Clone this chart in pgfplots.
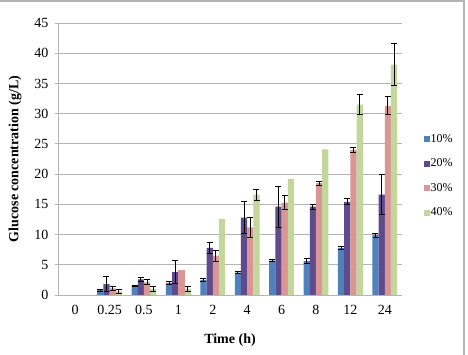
\documentclass[border=0pt]{standalone}
\usepackage{fontspec}
\setmainfont{Liberation Serif}
\usepackage{pgfplots}
\usepackage{pgfplotstable}
\pgfplotsset{compat=1.18}

\definecolor{c10}{HTML}{4F81BD}
\definecolor{c20}{HTML}{5F4A8B}
\definecolor{c30}{HTML}{D99694}
\definecolor{c40}{HTML}{C3D69B}
\definecolor{gridgray}{HTML}{B4B4B4}

% time index: 1=0.25 h, 2=0.5, 3=1, 4=2, 5=4, 6=6, 7=8, 8=12, 9=24
\pgfplotstableread{
x  y    e
1  0.8  0.2
2  1.5  0.1
3  2.0  0.2
4  2.5  0.3
5  3.7  0.2
6  5.7  0.2
7  5.6  0.4
8  7.8  0.3
9  9.9  0.3
}\tenpct
\pgfplotstableread{
x  y     e
1  1.8   1.2
2  2.6   0.3
3  3.8   1.9
4  7.8   0.9
5  12.8  2.6
6  14.6  3.4
7  14.6  0.4
8  15.4  0.5
9  16.6  3.3
}\twentypct
\pgfplotstableread{
x  y     e
1  1.1   0.3
2  2.1   0.4
4  6.5   0.9
5  11.2  1.6
6  15.3  1.2
7  18.5  0.3
8  24.0  0.4
9  31.3  1.5
}\thirtypct
\pgfplotstableread{
x  y     e
1  0.6   0.4
2  1.0   0.4
3  1.0   0.4
5  16.6  0.9
8  31.5  1.7
9  38.1  3.5
}\fortypct

\begin{document}
\begin{tikzpicture}[x=1pt,y=1pt]
\useasboundingbox (0,0) rectangle (468,355);
\begin{axis}[
  at={(58pt,60pt)}, anchor=south west,
  scale only axis, width=344pt, height=272pt,
  ybar=0pt, bar width=6.2pt,
  xmin=-0.5, xmax=9.5, ymin=0, ymax=45,
  xtick={0,...,9},
  xticklabels={0,0.25,0.5,1,2,4,6,8,12,24},
  x tick style={draw=none},
  extra x ticks={-0.5,1.5,3.5,5.5,7.5,9.5},
  extra x tick labels={},
  extra x tick style={major tick length=4pt, tick align=outside,
    tick style={draw=gridgray, line width=0.8pt}, grid=none},
  ytick={0,5,...,45},
  ymajorgrids,
  grid style={gridgray, line width=0.8pt},
  major tick length=3pt, tick align=outside,
  y tick style={draw=gridgray, line width=0.8pt},
  axis x line*=bottom, axis y line*=left,
  axis line style={gridgray, line width=0.8pt, -},
  /pgf/number format/assume math mode=true,
  ticklabel style={font=\fontsize{14}{16}\selectfont},
  yticklabel style={xshift=-3pt},
  xticklabel style={yshift=-4pt},
  xlabel={\textbf{Time (h)}},
  ylabel={\textbf{Glucose concentration (g/L)}},
  label style={font=\fontsize{14}{16}\selectfont},
  xlabel style={at={(axis description cs:0.5,-0.165)}, anchor=center},
  ylabel style={at={(axis description cs:-0.125,0.5)}, anchor=center},
  error bars/error bar style={black, line width=0.9pt},
  error bars/error mark options={black, line width=0.9pt, mark size=3pt, rotate=90},
  legend image code/.code={\path[#1, draw=none] (0pt,-3pt) rectangle (6pt,3pt);},
  legend style={draw=none, fill=none, at={(1.055,0.60)}, anchor=north west,
    font=\fontsize{12}{13}\selectfont, row sep=14pt,
    /tikz/every even column/.append style={column sep=1pt},
    nodes={inner sep=0.5pt}},
  legend cell align=left,
]
\addplot[fill=c10, draw=none, bar shift=-9.3pt,
  error bars/.cd, y dir=both, y explicit] table[x=x, y=y, y error=e] {\tenpct};
\addlegendentry{10\%}
\addplot[fill=c20, draw=none, bar shift=-3.1pt,
  error bars/.cd, y dir=both, y explicit] table[x=x, y=y, y error=e] {\twentypct};
\addlegendentry{20\%}
\addplot[fill=c30, draw=none, bar shift=3.1pt,
  error bars/.cd, y dir=both, y explicit] table[x=x, y=y, y error=e] {\thirtypct};
\addlegendentry{30\%}
\addplot[fill=c40, draw=none, bar shift=9.3pt,
  error bars/.cd, y dir=both, y explicit] table[x=x, y=y, y error=e] {\fortypct};
\addlegendentry{40\%}
% bars reported without a deviation
\addplot[fill=c30, draw=none, bar shift=3.1pt, forget plot] coordinates {(3,4.1)};
\addplot[fill=c40, draw=none, bar shift=9.3pt, forget plot] coordinates {(4,12.6) (6,19.2) (7,24.1)};
\end{axis}
% chart area frame
\draw[gridgray, line width=1.6pt] (0,354) -- (464,354) -- (464,0);
\end{tikzpicture}
\end{document}
